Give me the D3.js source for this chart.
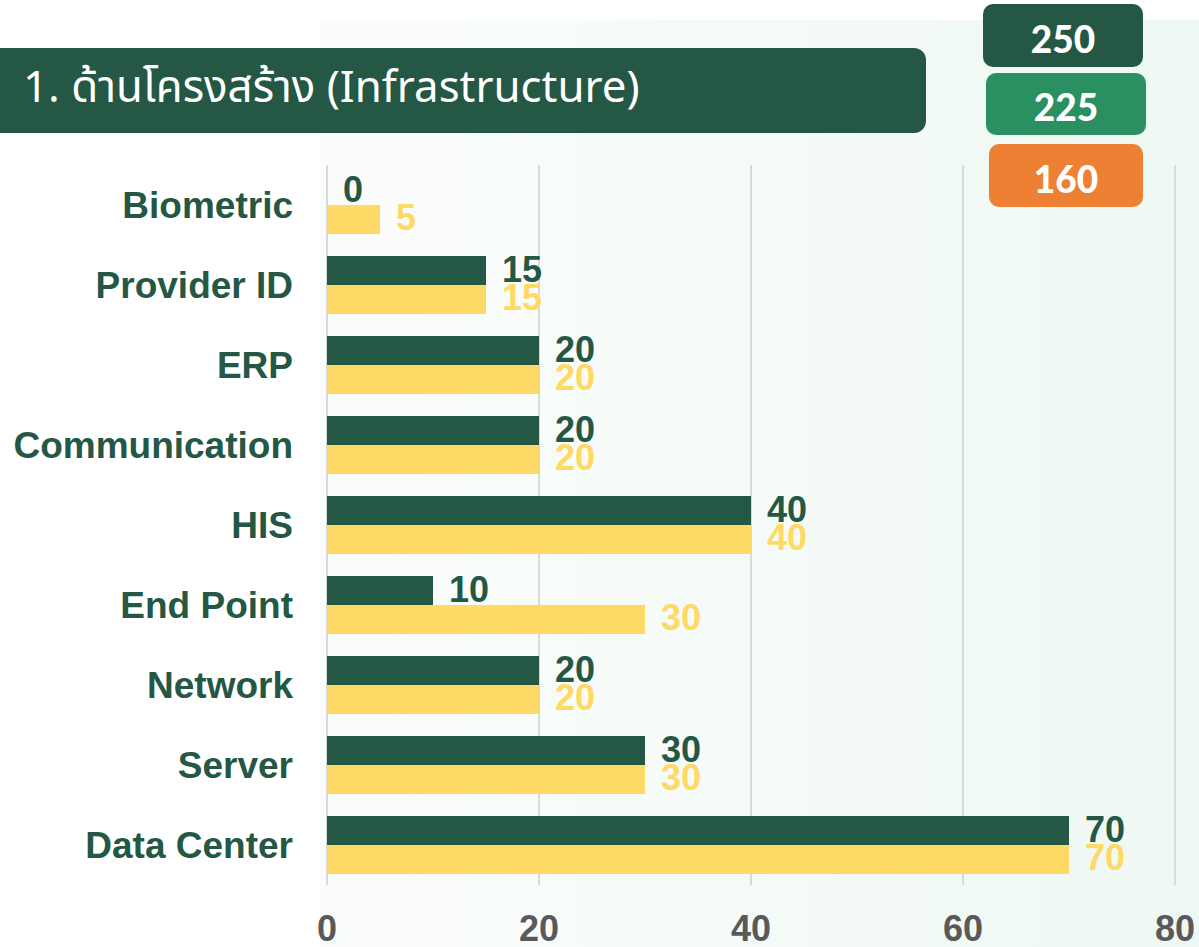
<!DOCTYPE html>
<html><head><meta charset="utf-8">
<script src="https://cdn.jsdelivr.net/npm/d3@7"></script>
<style>html,body{margin:0;padding:0;background:#fff;}svg{display:block;}</style>
</head><body>
<svg id="chart" width="1199" height="947"></svg>
<script>
const categories = ["Biometric","Provider ID","ERP","Communication","HIS","End Point","Network","Server","Data Center"];
const seriesDark = [0,15,20,20,40,10,20,30,70];
const seriesYellow = [5,15,20,20,40,30,20,30,70];
const xTicks = [0,20,40,60,80];
const badgeValues = ["250","225","160"];
const titleText = "1. ด้านโครงสร้าง (Infrastructure)";

const C = {dark:"#245744", yellow:"#ffd966", mid:"#2a9061", orange:"#ee8033", grid:"#d9d9d9", tick:"#595959"};
const svg = d3.select("#chart");
const W = 1199, H = 947;

const defs = svg.append("defs");
const g = defs.append("linearGradient").attr("id","bg").attr("x1","0").attr("x2","1").attr("y1","0").attr("y2","0");
g.append("stop").attr("offset","0").attr("stop-color","#fbfdfc");
g.append("stop").attr("offset","1").attr("stop-color","#eef8f3");
svg.append("rect").attr("x",320).attr("y",20).attr("width",W-320).attr("height",H-20).attr("fill","url(#bg)");

const x = d3.scaleLinear().domain([0,80]).range([327,1175]);
const y = d3.scaleBand().domain(categories).range([165,885]).paddingInner(0.275).paddingOuter(0.1375);
const sub = d3.scaleBand().domain(["dark","yellow"]).range([0,y.bandwidth()]);

// grid
svg.append("g").selectAll("line").data(xTicks).join("line")
  .attr("x1",d=>x(d)).attr("x2",d=>x(d)).attr("y1",165).attr("y2",885)
  .attr("stroke",C.grid).attr("stroke-width",2);

// tick labels
svg.append("g").selectAll("text").data(xTicks).join("text")
  .attr("x",d=>x(d)).attr("y",941).attr("text-anchor","middle")
  .attr("font-family","Liberation Sans, Arial, sans-serif").attr("font-weight","bold")
  .attr("font-size",36).attr("fill",C.tick).text(d=>d);

const rows = categories.map((c,i)=>({c, d:seriesDark[i], yv:seriesYellow[i]}));
const rowG = svg.append("g").selectAll("g").data(rows).join("g");
rowG.append("rect").attr("x",x(0)).attr("y",d=>y(d.c)+sub("dark")).attr("height",sub.bandwidth())
  .attr("width",d=>x(d.d)-x(0)).attr("fill",C.dark);
rowG.append("rect").attr("x",x(0)).attr("y",d=>y(d.c)+sub("yellow")).attr("height",sub.bandwidth())
  .attr("width",d=>x(d.yv)-x(0)).attr("fill",C.yellow);
const vfont = "Liberation Sans, Arial, sans-serif";
rowG.append("text").attr("x",d=>x(d.d)+16).attr("y",d=>y(d.c)+sub("dark")+sub.bandwidth()/2+11)
  .attr("font-family",vfont).attr("font-weight","bold").attr("font-size",36).attr("fill",C.dark).text(d=>d.d);
rowG.append("text").attr("x",d=>x(d.yv)+16).attr("y",d=>y(d.c)+sub("yellow")+sub.bandwidth()/2+10)
  .attr("font-family",vfont).attr("font-weight","bold").attr("font-size",36).attr("fill",C.yellow).text(d=>d.yv);
// category labels
rowG.append("text").attr("x",293).attr("y",d=>y(d.c)+y.bandwidth()/2+13).attr("text-anchor","end")
  .attr("font-family",vfont).attr("font-weight","bold").attr("font-size",37).attr("fill",C.dark).text(d=>d.c);

// title
svg.append("rect").attr("x",-12).attr("y",48).attr("width",938).attr("height",85).attr("rx",12).attr("fill",C.dark);
svg.append("text").attr("x",23).attr("y",102).attr("font-family","'Noto Sans', 'Noto Sans Thai', sans-serif")
  .attr("font-size",43.8).attr("fill","#fff").text(titleText);

// badges
const badgeBoxes = [{x0:983,x1:1143,y0:4,y1:67,c:C.dark},{x0:986,x1:1146,y0:73,y1:135,c:C.mid},{x0:989,x1:1143,y0:144,y1:207,c:C.orange}];
const bg = svg.append("g").selectAll("g").data(badgeValues.map((v,i)=>({v,...badgeBoxes[i]}))).join("g");
bg.append("rect").attr("x",d=>d.x0).attr("y",d=>d.y0).attr("width",d=>d.x1-d.x0).attr("height",d=>d.y1-d.y0)
  .attr("rx",10).attr("fill",d=>d.c);
bg.append("text").attr("x",d=>(d.x0+d.x1)/2).attr("y",d=>(d.y0+d.y1)/2+17).attr("text-anchor","middle")
  .attr("font-family","Lato, 'Noto Sans', sans-serif").attr("font-weight",900).attr("font-size",37).attr("fill","#fff").text(d=>d.v);
</script>
</body></html>
